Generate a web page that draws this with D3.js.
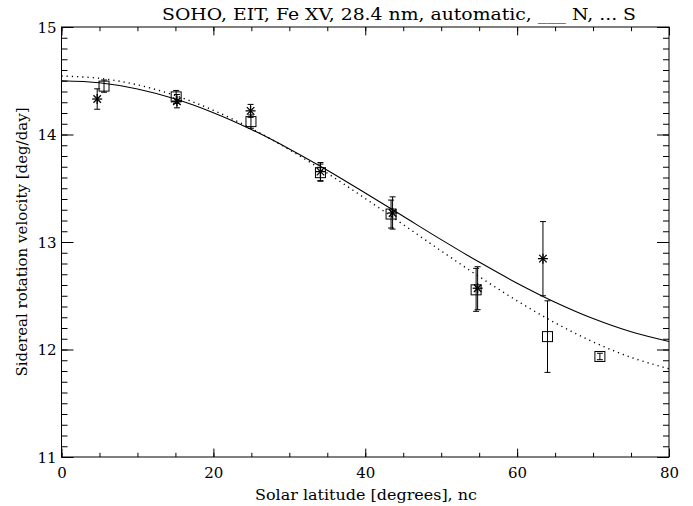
<!DOCTYPE html>
<html>
<head>
<meta charset="utf-8">
<script src="https://cdn.jsdelivr.net/npm/d3@7/dist/d3.min.js"></script>
<style>
  html, body { margin: 0; padding: 0; background: #fff; }
  svg text { font-family: "DejaVu Serif", "Liberation Serif", serif; fill: #000; }
</style>
</head>
<body>
<svg id="chart" width="693" height="506"></svg>
<script>
// Northern hemisphere measurements (asterisks)
const northLat = [4.7, 15.2, 24.9, 34.1, 43.6, 54.8, 63.4];
const northVel = [14.33, 14.31, 14.22, 13.655, 13.27, 12.57, 12.845];
const northErr = [0.095, 0.062, 0.06, 0.084, 0.15, 0.2, 0.345];

// Southern hemisphere measurements (squares)
const southLat = [5.6, 15.1, 24.95, 34.1, 43.4, 54.6, 64.0, 70.9];
const southVel = [14.45, 14.35, 14.12, 13.645, 13.26, 12.555, 12.12, 11.935];
const southErr = [0.057, 0.06, 0.062, 0.08, 0.13, 0.2, 0.333, 0.03];

// Fitted rotation profiles, sampled every 5 degrees
const fitLat = [0, 5, 10, 15, 20, 25, 30, 35, 40, 45, 50, 55, 60, 65, 70, 75, 80];
const fitNorth = [14.500, 14.481, 14.423, 14.330, 14.203, 14.047, 13.866, 13.668,
                  13.456, 13.239, 13.022, 12.813, 12.617, 12.440, 12.288, 12.165, 12.075];
const fitSouth = [14.544, 14.523, 14.462, 14.362, 14.225, 14.056, 13.859, 13.640,
                  13.405, 13.162, 12.917, 12.678, 12.453, 12.248, 12.071, 11.927, 11.820];

// Axis ticks
const xMajorTicks = [0, 20, 40, 60, 80];
const xMinorTicks = d3.range(0, 80.01, 5);
const yMajorTicks = [11, 12, 13, 14, 15];
const yMinorTicks = d3.range(110, 150.5, 1).map(v => v / 10);

const titleText = "SOHO, EIT, Fe XV, 28.4 nm, automatic, ___ N, ... S";
const xLabel = "Solar latitude [degrees], nc";
const yLabel = "Sidereal rotation velocity [deg/day]";

const svg = d3.select("#chart");
const plotL = 61.5, plotR = 669, plotT = 27, plotB = 457;
const x = d3.scaleLinear().domain([0, 80]).range([plotL, plotR]);
const y = d3.scaleLinear().domain([11, 15]).range([plotB, plotT]);

// Ticks pointing inward on all four sides
function addAxis(gen, transform, values, size, labels) {
  const g = svg.append("g").attr("transform", transform)
    .call(gen.tickValues(values).tickSize(size).tickSizeOuter(0)
      .tickFormat(labels ? d3.format("d") : ""));
  g.select(".domain").remove();
  g.selectAll("line").attr("stroke", "#000").attr("stroke-width", 1);
  return g;
}
addAxis(d3.axisBottom(x), `translate(0,${plotB})`, xMinorTicks, -4.2, false);
const xb = addAxis(d3.axisBottom(x), `translate(0,${plotB})`, xMajorTicks, -8.4, true);
xb.selectAll("text").attr("font-size", 15).attr("y", 10).attr("dy", "0.71em");
addAxis(d3.axisTop(x), `translate(0,${plotT})`, xMinorTicks, -4.2, false);
addAxis(d3.axisTop(x), `translate(0,${plotT})`, xMajorTicks, -8.4, false);

addAxis(d3.axisLeft(y), `translate(${plotL},0)`, yMinorTicks, -6, false);
const yl = addAxis(d3.axisLeft(y), `translate(${plotL},0)`, yMajorTicks, -12, true);
yl.selectAll("text").attr("font-size", 15).attr("x", -5).attr("dy", "0.36em");
addAxis(d3.axisRight(y), `translate(${plotR},0)`, yMinorTicks, -6, false);
addAxis(d3.axisRight(y), `translate(${plotR},0)`, yMajorTicks, -12, false);

// Plot frame
svg.append("rect")
  .attr("x", plotL).attr("y", plotT)
  .attr("width", plotR - plotL).attr("height", plotB - plotT)
  .attr("fill", "none").attr("stroke", "#000").attr("stroke-width", 1);

// Fit curves
const line = d3.line().x(d => x(d[0])).y(d => y(d[1])).curve(d3.curveCatmullRom);
svg.append("path")
  .datum(fitLat.map((l, i) => [l, fitNorth[i]]))
  .attr("d", line).attr("fill", "none").attr("stroke", "#000").attr("stroke-width", 1.1);
svg.append("path")
  .datum(fitLat.map((l, i) => [l, fitSouth[i]]))
  .attr("d", line).attr("fill", "none").attr("stroke", "#000")
  .attr("stroke-width", 1.4).attr("stroke-dasharray", "1.2,4");

// Error bars with small caps
function errorBars(lats, vels, errs) {
  const g = svg.append("g").attr("stroke", "#000").attr("stroke-width", 1).attr("fill", "none");
  lats.forEach((l, i) => {
    const cx = x(l), y0 = y(vels[i] - errs[i]), y1 = y(vels[i] + errs[i]);
    g.append("line").attr("x1", cx).attr("x2", cx).attr("y1", y0).attr("y2", y1);
    g.append("line").attr("x1", cx - 3).attr("x2", cx + 3).attr("y1", y0).attr("y2", y0);
    g.append("line").attr("x1", cx - 3).attr("x2", cx + 3).attr("y1", y1).attr("y2", y1);
  });
}
errorBars(northLat, northVel, northErr);
errorBars(southLat, southVel, southErr);

// Asterisk markers
const star = svg.append("g").attr("stroke", "#000").attr("stroke-width", 1.3);
northLat.forEach((l, i) => {
  const cx = x(l), cy = y(northVel[i]), r = 5;
  [[r, 0], [0, r], [r * 0.75, r * 0.75], [r * 0.75, -r * 0.75]].forEach(([dx, dy]) => {
    star.append("line").attr("x1", cx - dx).attr("x2", cx + dx)
      .attr("y1", cy - dy).attr("y2", cy + dy);
  });
});

// Square markers
svg.append("g").selectAll("rect").data(southLat).join("rect")
  .attr("x", (d) => x(d) - 5)
  .attr("y", (d, i) => y(southVel[i]) - 5)
  .attr("width", 10).attr("height", 10)
  .attr("fill", "none").attr("stroke", "#000").attr("stroke-width", 1);

// Titles
svg.append("text").attr("x", 399).attr("y", 20)
  .attr("text-anchor", "middle").attr("font-size", 17)
  .attr("textLength", 474).attr("lengthAdjust", "spacingAndGlyphs").text(titleText);
svg.append("text").attr("x", 366).attr("y", 500)
  .attr("text-anchor", "middle").attr("font-size", 15)
  .attr("textLength", 222).attr("lengthAdjust", "spacingAndGlyphs").text(xLabel);
svg.append("text")
  .attr("transform", `translate(27,${(plotT + plotB) / 2}) rotate(-90)`)
  .attr("text-anchor", "middle").attr("font-size", 15).text(yLabel);
</script>
</body>
</html>
